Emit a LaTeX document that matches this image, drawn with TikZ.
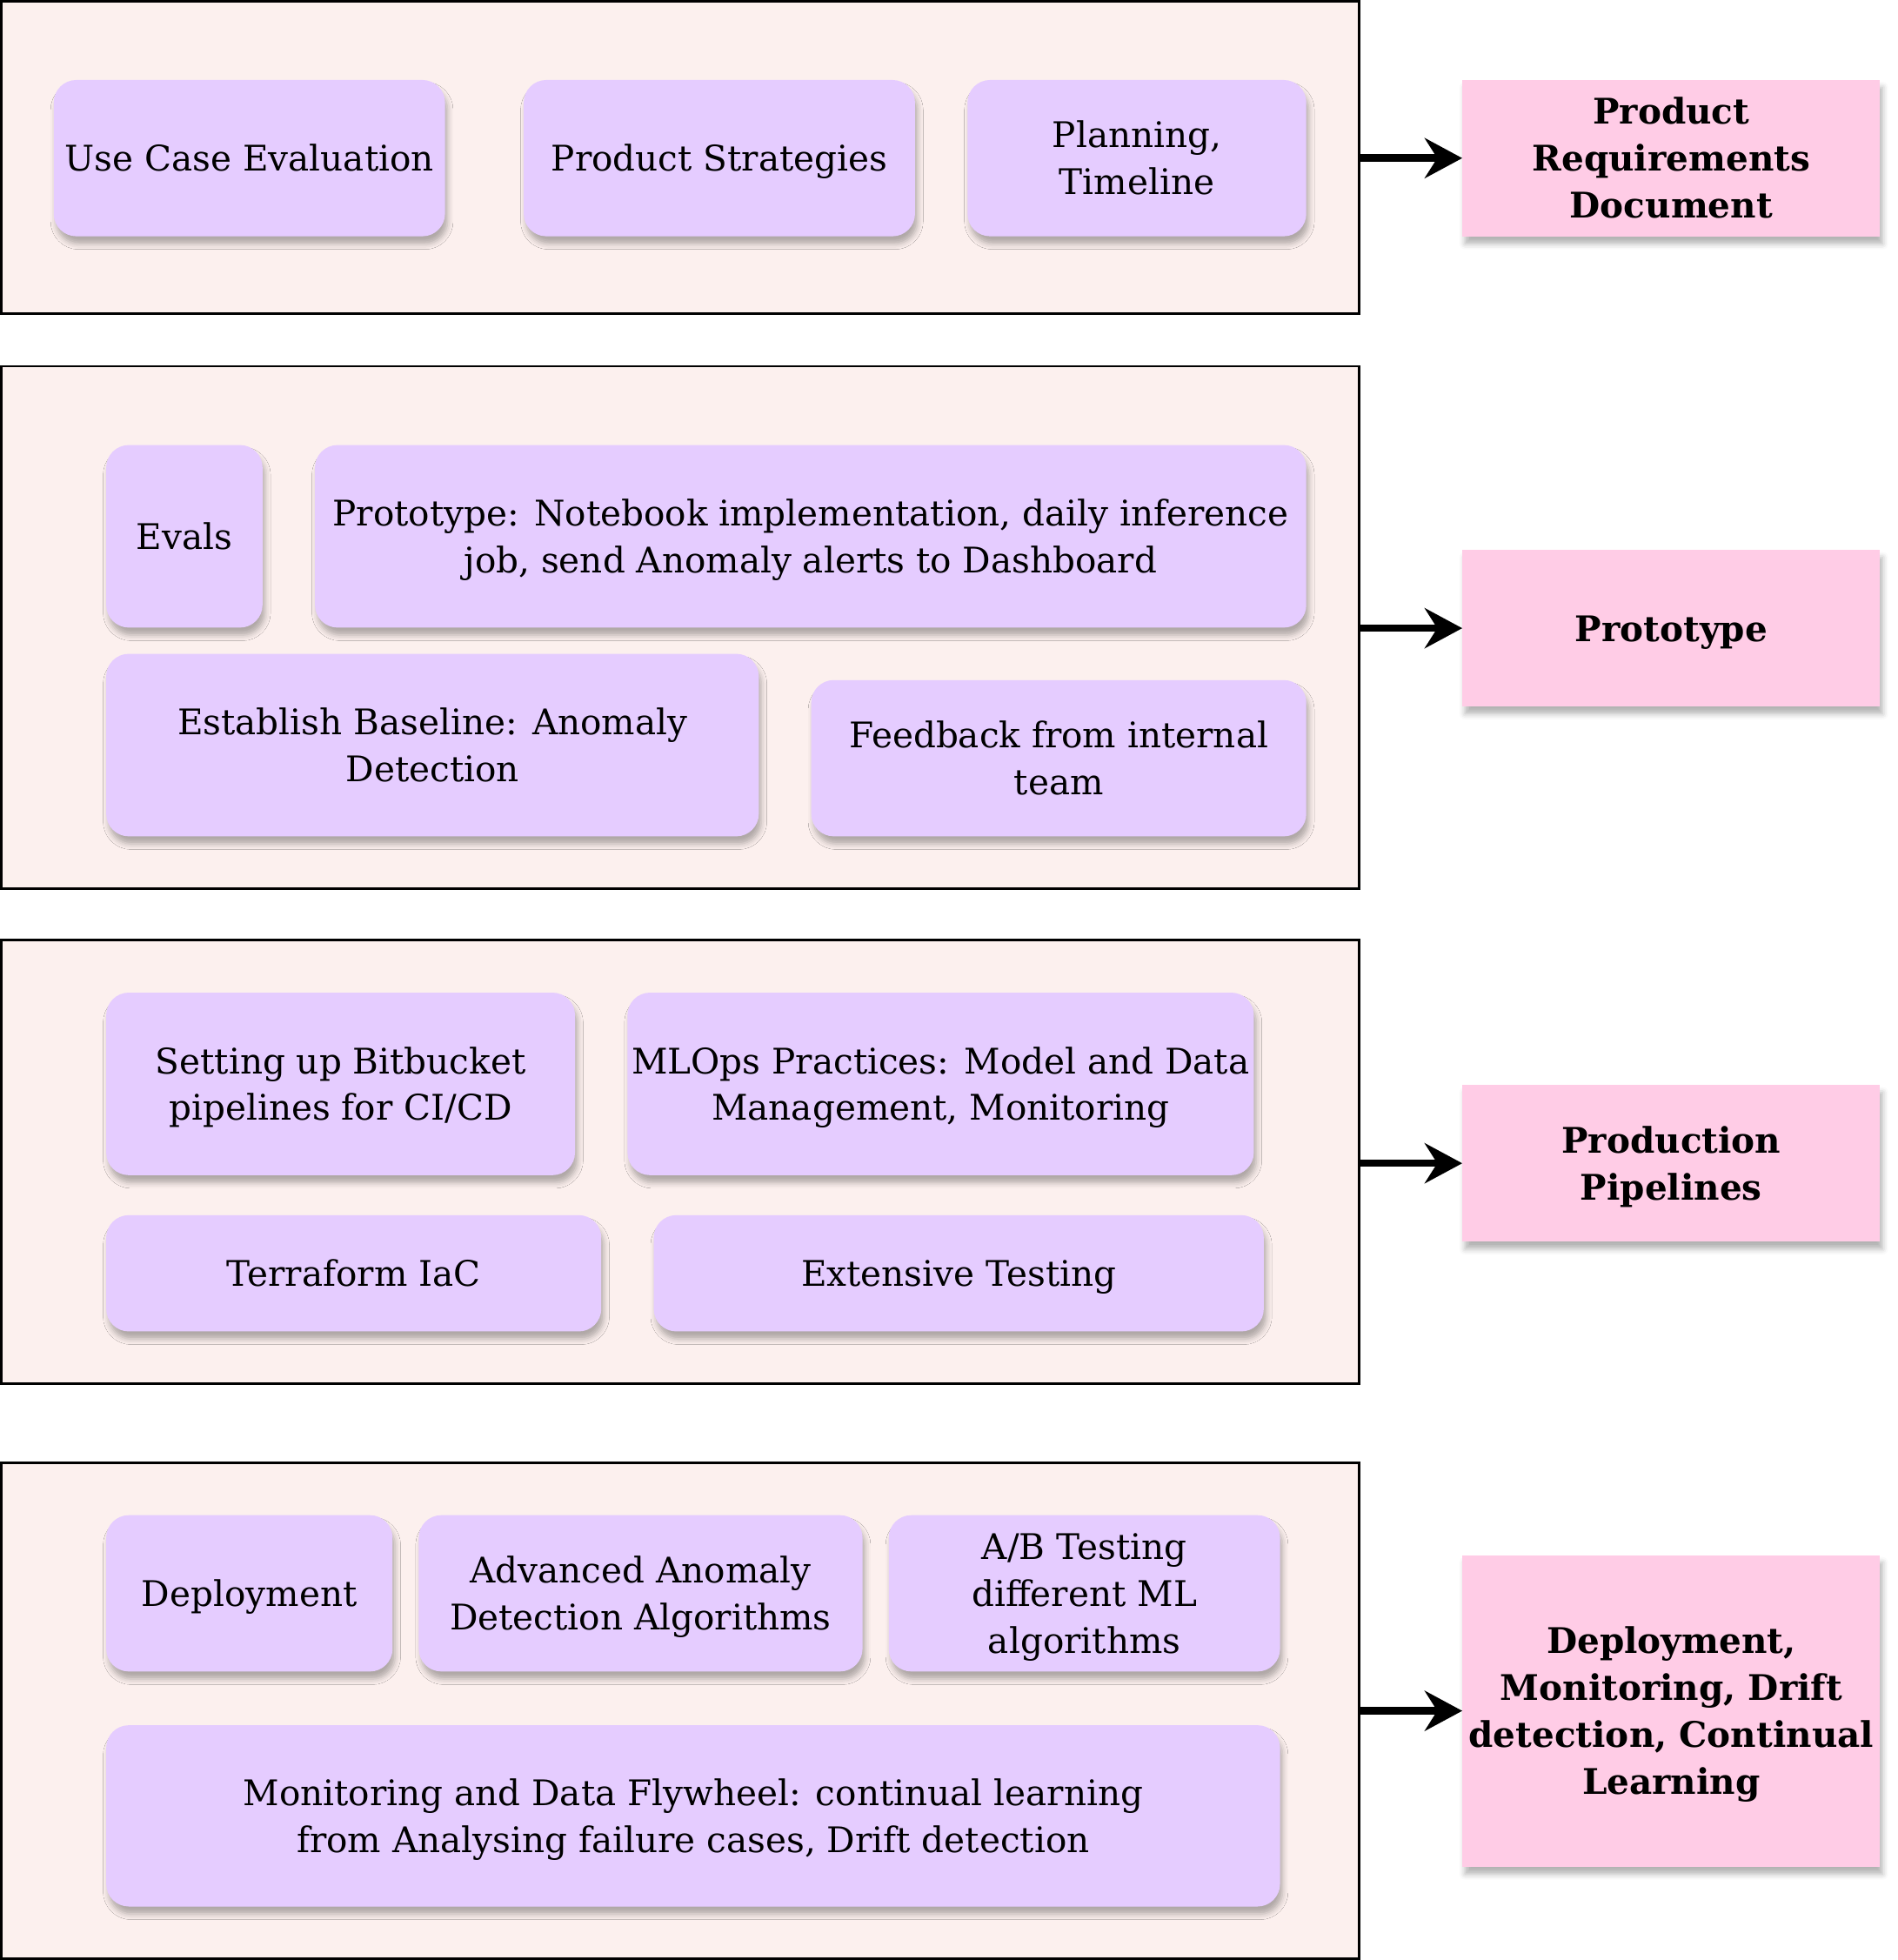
\documentclass[tikz,border=0pt]{standalone}
\usepackage{fontspec}
\setmainfont{DejaVu Serif}
\usetikzlibrary{arrows.meta,shadows.blur}
\definecolor{framefill}{HTML}{FCF0EE}
\definecolor{lav}{HTML}{E5CCFF}
\definecolor{pinkbox}{HTML}{FFCCE6}
\newcommand{\ls}{\rule[-8pt]{0pt}{37pt}}
\tikzset{
  frame/.style={draw=black, line width=2pt, fill=framefill, inner sep=0pt},
  softshadow/.style={blur shadow={shadow xshift=2pt, shadow yshift=-6pt, shadow blur radius=4.5pt, shadow opacity=30}},
  task/.style={fill=lav, rounded corners=18pt, inner sep=0pt, align=center,
    font=\fontsize{28.2}{37.5}\selectfont, softshadow},
  outcome/.style={fill=pinkbox, inner sep=0pt, align=center,
    font=\fontsize{28.2}{37.5}\selectfont\bfseries, minimum width=334pt, softshadow},
  flow/.style={line width=6pt, -{Stealth[length=30pt,width=32pt,inset=10pt]}},
}
\newcommand{\taskbox}[6]{\node[task, minimum width=#4pt, minimum height=#5pt] (#1) at (#2,#3) {#6};}
\begin{document}
\begin{tikzpicture}[x=1pt,y=-1pt]
\useasboundingbox (0,0) rectangle (1517.7,1567.8);
% frames
\node[frame, minimum width=1086pt, minimum height=250pt] (f1) at (544,126) {};
\node[frame, minimum width=1086pt, minimum height=418pt] (f2) at (544,502) {};
\node[frame, minimum width=1086pt, minimum height=355pt] (f3) at (544,929.5) {};
\node[frame, minimum width=1086pt, minimum height=396.5pt] (f4) at (544,1368.25) {};
% row 1
\taskbox{uce}{199.5}{126.5}{313}{125}{\ls Use Case Evaluation}
\taskbox{ps}{575.5}{126.5}{313}{125}{\ls Product Strategies}
\taskbox{plan}{909.5}{126.5}{271}{125}{\ls Planning,\\\ls Timeline}
\node[outcome, minimum height=125pt] (prd) at (1337,126.5) {\ls Product\\\ls Requirements\\\ls Document};
% row 2
\taskbox{evals}{147.5}{429}{125}{146}{\ls Evals}
\taskbox{proto}{648.5}{429}{793}{146}{\ls Prototype: Notebook implementation, daily inference\\\ls job, send Anomaly alerts to Dashboard}
\taskbox{base}{346}{596}{522}{146}{\ls Establish Baseline: Anomaly\\\ls Detection}
\taskbox{fb}{847}{606.5}{396}{125}{\ls Feedback from internal\\\ls team}
\node[outcome, minimum height=125pt] (pt) at (1337,502.5) {\ls Prototype};
% row 3
\taskbox{bb}{272.5}{867}{375}{146}{\ls Setting up Bitbucket\\\ls pipelines for CI/CD}
\taskbox{mlops}{752.5}{867}{501}{146}{\ls MLOps Practices: Model and Data\\\ls Management, Monitoring}
\taskbox{tf}{283}{1018.5}{396}{93}{\ls Terraform IaC}
\taskbox{ext}{767}{1018.5}{488}{93}{\ls Extensive Testing}
\node[outcome, minimum height=125pt] (pp) at (1337,930.5) {\ls Production\\\ls Pipelines};
% row 4
\taskbox{dep}{199.5}{1274.5}{229}{125}{\ls Deployment}
\taskbox{adv}{512.5}{1274.5}{355}{125}{\ls Advanced Anomaly\\\ls Detection Algorithms}
\taskbox{ab}{867.5}{1274.5}{313}{125}{\ls A/B Testing\\\ls different ML\\\ls algorithms}
\taskbox{mon}{554.5}{1452.5}{939}{145}{\ls Monitoring and Data Flywheel: continual learning\\\ls from Analysing failure cases, Drift detection}
\node[outcome, minimum height=249pt] (dmd) at (1337,1368.5) {\ls Deployment,\\\ls Monitoring, Drift\\\ls detection, Continual\\\ls Learning};
% arrows
\draw[flow] (f1.east |- prd.west) -- (prd.west);
\draw[flow] (f2.east |- pt.west) -- (pt.west);
\draw[flow] (f3.east |- pp.west) -- (pp.west);
\draw[flow] (f4.east |- dmd.west) -- (dmd.west);
\end{tikzpicture}
\end{document}
